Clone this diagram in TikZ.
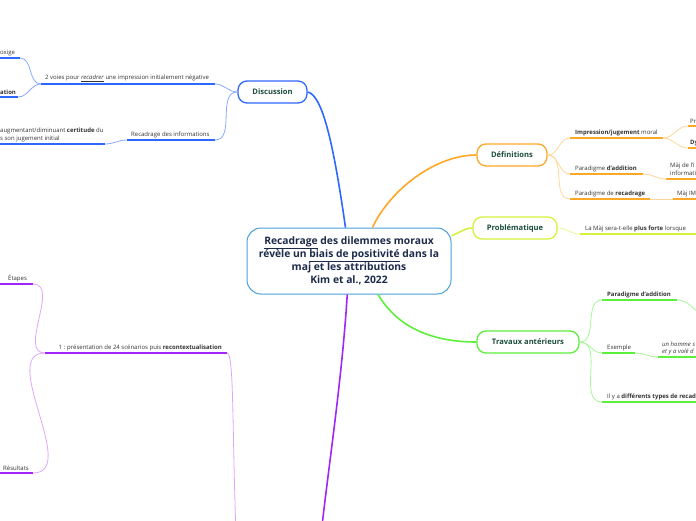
\documentclass[tikz,border=0pt]{standalone}
\usepackage{fontspec}
\setmainfont{Open Sans}
\usetikzlibrary{shapes}
\usetikzlibrary{scopes}

\definecolor{rootblue}{HTML}{4A9FD8}
\definecolor{navy}{HTML}{1C2B4A}
\definecolor{nodegreen}{HTML}{1B4D3E}
\definecolor{leafgrey}{HTML}{333333}
\definecolor{disblue}{HTML}{2F68FF}
\definecolor{dislight}{HTML}{8CA9FF}
\definecolor{deforange}{HTML}{FFA726}
\definecolor{deflight}{HTML}{FFD699}
\definecolor{proyellow}{HTML}{D6F03C}
\definecolor{prolight}{HTML}{E8F78F}
\definecolor{tragreen}{HTML}{5CF03C}
\definecolor{tralight}{HTML}{A8F79A}
\definecolor{purple}{HTML}{A126F9}
\definecolor{purlight}{HTML}{DDA6FF}

\begin{document}
\begin{tikzpicture}[x=1pt,y=-1pt,
		topic/.style={draw, rounded corners=9pt, line width=1.3pt, fill=white, minimum height=22pt, inner sep=0pt, text=nodegreen, font=\fontsize{7.6}{9}\selectfont\bfseries},
		leaf/.style={anchor=south west, inner sep=0pt, text=leafgrey, font=\fontsize{6}{8}\selectfont, align=left},
		uline/.style={line width=1.6pt},
		link/.style={line width=0.8pt}]
		\useasboundingbox (0,0) rectangle (696,520);
		\clip (0,0) rectangle (696,520);

		\node[draw=rootblue, line width=1pt, rounded corners=14pt, fill=white, align=center, minimum width=204pt, minimum height=66pt, text=navy, font=\fontsize{10.3}{13}\selectfont\bfseries] (root) at (349,261) {\underline{Recadrage} des dilemmes moraux\\ révèle un \underline{biais de positivité} dans la\\ maj et les attributions\\ Kim et al., 2022};

		\node[topic, draw=disblue, minimum width=69pt] (dis) at (272.5,92) {Discussion};
		\node[topic, draw=deforange, minimum width=70pt] (def) at (512,155) {Définitions};
		\node[topic, draw=proyellow, minimum width=84pt] (pro) at (515,228) {Problématique};
		\node[topic, draw=tragreen, minimum width=102pt] (tra) at (528,342) {Travaux antérieurs};

		\begin{scope}[disblue]
			\draw[line width=1.6pt] (root.96) .. controls (333,140) and (322,95) .. (dis.east);
			\coordinate (voiesL) at (41,84);
			\coordinate (voiesR) at (215,84);
			\node[leaf] (voies) at (45,82) {2 voies pour \underline{\textit{recadrer}} une impression initialement négative};
			\draw[uline] (voiesL) -- (voiesR);
			\coordinate (recL) at (127,140);
			\coordinate (recR) at (215,140);
			\node[leaf] (rec) at (131,138) {Recadrage des informations};
			\draw[uline] (recL) -- (recR);
			\draw[link, dislight] (dis.west) to[out=180,in=0] (voiesR);
			\draw[link, dislight] (dis.west) to[out=180,in=0] (recR);
			% feuilles
			\coordinate (oxL) at (-5,58);
			\coordinate (oxR) at (20,58);
			\node[leaf] (oxige) at (0,56) {oxige};
			\draw[uline] (oxL) -- (oxR);
			\coordinate (atL) at (-5,97);
			\coordinate (atR) at (18,97);
			\node[leaf] (ation) at (0,95) {\textbf{ation}};
			\draw[uline] (atL) -- (atR);
			\draw[link, dislight] (voiesL) to[out=180,in=0] (oxR);
			\draw[link, dislight] (voiesL) to[out=180,in=0] (atR);
			\coordinate (certL) at (-5,144);
			\coordinate (certR) at (105,144);
			\node[leaf] (cert) at (0,142) {augmentant/diminuant \textbf{certitude} du\\s son jugement initial};
			\draw[uline] (certL) -- (certR);
			\draw[link, dislight] (recL) to[out=180,in=0] (certR);
		\end{scope}

		\begin{scope}[deforange]
			\draw[line width=1.6pt] (root.55) .. controls (390,190) and (435,155) .. (def.west);
			\coordinate (impL) at (570,138);
			\coordinate (impR) at (663,138);
			\node[leaf] (imp) at (575,136) {\textbf{Impression/jugement} moral};
			\draw[uline] (impL) -- (impR);
			\coordinate (addL) at (570,174);
			\coordinate (addR) at (643,174);
			\node[leaf] (add) at (575,172) {Paradigme \textbf{d'addition}};
			\draw[uline] (addL) -- (addR);
			\coordinate (recaL) at (570,199);
			\coordinate (recaR) at (650,199);
			\node[leaf] (reca) at (575,197) {Paradigme de \textbf{recadrage}};
			\draw[uline] (recaL) -- (recaR);
			\draw[link, deflight] (def.east) to[out=0,in=180] (impL);
			\draw[link, deflight] (def.east) to[out=0,in=180] (addL);
			\draw[link, deflight] (def.east) to[out=0,in=180] (recaL);
			% feuilles
			\coordinate (prL) at (688,126);
			\coordinate (prR) at (705,126);
			\node[leaf] (pr) at (690,124) {Pr};
			\draw[uline] (prL) -- (prR);
			\coordinate (dyL) at (688,148);
			\coordinate (dyR) at (705,148);
			\node[leaf] (dy) at (690,146) {\textbf{Dy}};
			\draw[uline] (dyL) -- (dyR);
			\draw[link, deflight] (impR) to[out=0,in=180] (prL);
			\draw[link, deflight] (impR) to[out=0,in=180] (dyL);
			\coordinate (majL) at (666,179);
			\coordinate (majR) at (705,179);
			\node[leaf] (maj) at (670,176) {Màj de l'i\\informati};
			\draw[uline] (majL) -- (majR);
			\draw[link, deflight] (addR) to[out=0,in=180] (majL);
			\coordinate (imL) at (673,199);
			\coordinate (imR) at (705,199);
			\node[leaf] (im) at (677,197) {Màj IM};
			\draw[uline] (imL) -- (imR);
			\draw[link, deflight] (recaR) -- (imL);
		\end{scope}

		\begin{scope}[proyellow]
			\draw[line width=1.6pt] (root.14) to[out=15,in=180] (pro.west);
			\coordinate (laL) at (580,234);
			\coordinate (laR) at (705,234);
			\node[leaf] (la) at (585,232) {La Màj sera-t-elle \textbf{plus forte} lorsque};
			\draw[uline] (laL) -- (laR);
			\draw[link, prolight] (pro.east) to[out=0,in=180] (laL);
		\end{scope}

		\begin{scope}[tragreen]
			\draw[line width=1.6pt] (root.-49) .. controls (400,332) and (440,342) .. (tra.west);
			\coordinate (paL) at (602,300);
			\coordinate (paR) at (677,300);
			\node[leaf] (pa) at (607,298) {\textbf{Paradigme d'addition}};
			\draw[uline] (paL) -- (paR);
			\coordinate (exL) at (602,353);
			\coordinate (exR) at (635,353);
			\node[leaf] (ex) at (607,351) {Exemple};
			\draw[uline] (exL) -- (exR);
			\coordinate (tyL) at (602,402);
			\coordinate (tyR) at (705,402);
			\node[leaf] (ty) at (607,400) {Il y a \textbf{différents types de recad}};
			\draw[uline] (tyL) -- (tyR);
			\draw[link, tralight] (tra.east) to[out=0,in=180] (paL);
			\draw[link, tralight] (tra.east) to[out=0,in=180] (exL);
			\draw[link, tralight] (tra.east) to[out=0,in=180] (tyL);
			% feuilles
			\coordinate (paC) at (712,318);
			\draw[link, tralight] (paR) to[out=0,in=180] (paC);
			\coordinate (homL) at (658,357);
			\coordinate (homR) at (705,357);
			\node[leaf, font=\fontsize{6}{7}\selectfont\itshape] (hom) at (662,355) {un homme s\\et y a volé d};
			\draw[uline] (homL) -- (homR);
			\draw[link, tralight] (exR) to[out=0,in=180] (homL);
		\end{scope}

		\begin{scope}[purple]
			\coordinate (met) at (321,535);
			\coordinate (metW) at (236,535);
			\draw[line width=1.6pt] (root.-93) .. controls (342,380) and (328,470) .. (met);
			\coordinate (unL) at (45,353);
			\coordinate (unR) at (227,353);
			\node[leaf, anchor=south east] (un) at (222,351) {1 : présentation de 24 scénarios puis \textbf{recontextualisation}};
			\draw[uline] (unL) -- (unR);
			\draw[link, purlight] (unR) .. controls (234,353) and (232,420) .. (metW);
			% feuilles
			\coordinate (etL) at (-5,284);
			\coordinate (etR) at (33,284);
			\node[leaf] (et) at (8,282) {Étapes};
			\draw[uline] (etL) -- (etR);
			\coordinate (resL) at (-5,473);
			\coordinate (resR) at (33,473);
			\node[leaf] (res) at (3,471) {Résultats};
			\draw[uline] (resL) -- (resR);
			\draw[link, purlight] (unL) to[out=180,in=0] (etR);
			\draw[link, purlight] (unL) to[out=180,in=0] (resR);
		\end{scope}
	\end{tikzpicture}
\end{document}
